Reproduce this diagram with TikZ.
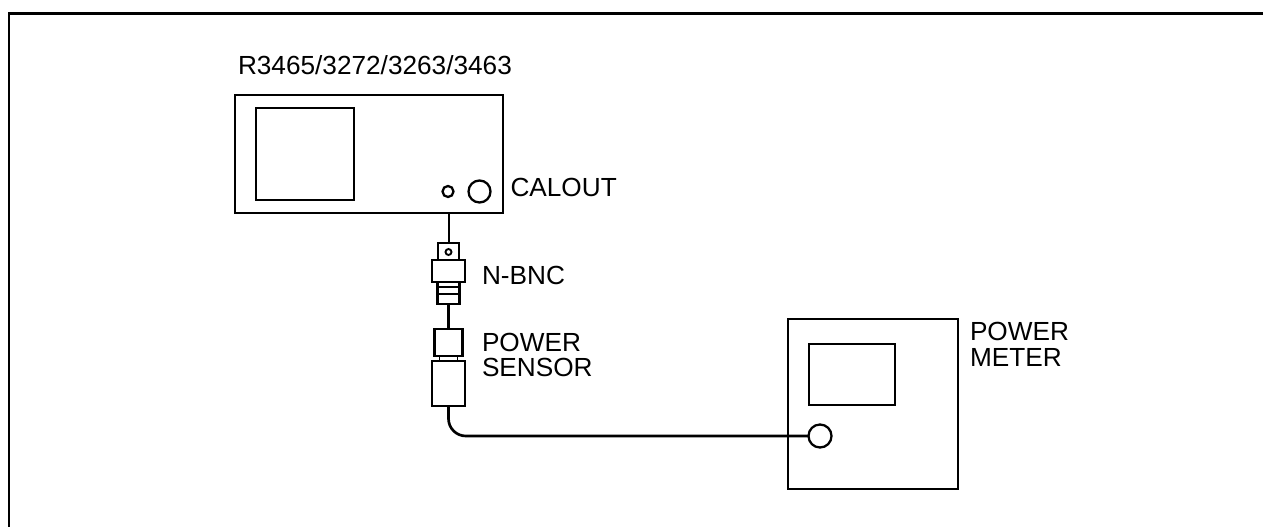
\documentclass[tikz,border=0pt]{standalone}
\usepackage{fontspec}
\setmainfont{Liberation Sans}
\begin{document}
\begin{tikzpicture}[x=0.75pt,y=-0.75pt,
  thick line/.style={line width=2.1pt,line join=miter},
  boxa/.style={draw=black,line width=2.0pt,inner sep=0pt,outer sep=0pt,fill=white},
  boxb/.style={draw=black,line width=1.8pt,inner sep=0pt,outer sep=0pt,fill=white},
  port/.style={circle,draw=black,line width=1.7pt,inner sep=0pt,outer sep=0pt,fill=white},
  lead/.style={draw=black,line width=1.5pt},
  cable/.style={draw=black,line width=2.0pt},
  lbl/.style={inner sep=0pt,outer sep=0pt,anchor=base west,font=\fontsize{19.65pt}{19.8pt}\selectfont,text=black,align=left}]
\useasboundingbox (0,0) rectangle (1263,527);
\fill[white] (0,0) rectangle (1263,527);
% frame
\coordinate (fa) at (9,527);
\coordinate (fb) at (9,13.5);
\coordinate (fc) at (1263,13.5);
\draw[thick line] (fa) -- (fb) -- (fc);
% analyzer
\node[boxa,minimum width=268*0.75pt,minimum height=118*0.75pt] (an) at (369,154) {};
\node[boxb,minimum width=98*0.75pt,minimum height=92*0.75pt] (ans) at (305,154) {};
\node[port,minimum size=11*0.75pt] (cal) at (448,191.5) {};
\node[port,minimum size=22*0.75pt] (calb) at (479.5,191.5) {};
% N-BNC connector
\node[boxb,minimum width=21*0.75pt,minimum height=17*0.75pt] (ntop) at (448.5,251.5) {};
\node[port,line width=1.4pt,minimum size=6*0.75pt] (nhole) at (448.5,252) {};
\node[boxb,minimum width=33*0.75pt,minimum height=22*0.75pt] (nmid) at (448.5,271) {};
\node[boxb,minimum width=22*0.75pt,minimum height=5*0.75pt] (na) at (448.5,284.5) {};
\node[boxb,minimum width=22*0.75pt,minimum height=7*0.75pt] (nb) at (448.5,290.5) {};
\node[boxb,minimum width=22*0.75pt,minimum height=10*0.75pt] (nc) at (448.5,299) {};
% power sensor
\node[boxb,minimum width=28*0.75pt,minimum height=27*0.75pt] (su) at (448.5,342.5) {};
\node[boxb,line width=1.2pt,minimum width=18*0.75pt,minimum height=5*0.75pt] (sn) at (448.5,358.5) {};
\node[boxb,minimum width=33*0.75pt,minimum height=45*0.75pt] (sl) at (448.5,383.5) {};
% power meter
\node[boxa,line width=1.7pt,minimum width=170*0.75pt,minimum height=170*0.75pt] (pm) at (873,404) {};
\node[boxa,line width=1.8pt,minimum width=86*0.75pt,minimum height=61*0.75pt] (pms) at (852,374.5) {};
\node[port,minimum size=23*0.75pt] (pmp) at (820,436) {};
% connectors
\draw[lead] (ntop.north) -- (ntop.north |- an.south);
\draw[lead,line width=1.9pt] (nc.south) -- (su.north);
\draw[cable,rounded corners=13pt] (sl.south) |- (pmp.west);
% labels
\node[lbl] (t1) at (238,75) {R3465/3272/3263/3463};
\node[lbl] (t2) at (510.5,197) {CALOUT};
\node[lbl] (t3) at (482,284) {N-BNC};
\node[lbl] (t4) at (482,351) {POWER};
\node[lbl] (t5) at (482,376) {SENSOR};
\node[lbl] (t6) at (970,340.5) {POWER};
\node[lbl] (t7) at (970,366) {METER};
\end{tikzpicture}
\end{document}
